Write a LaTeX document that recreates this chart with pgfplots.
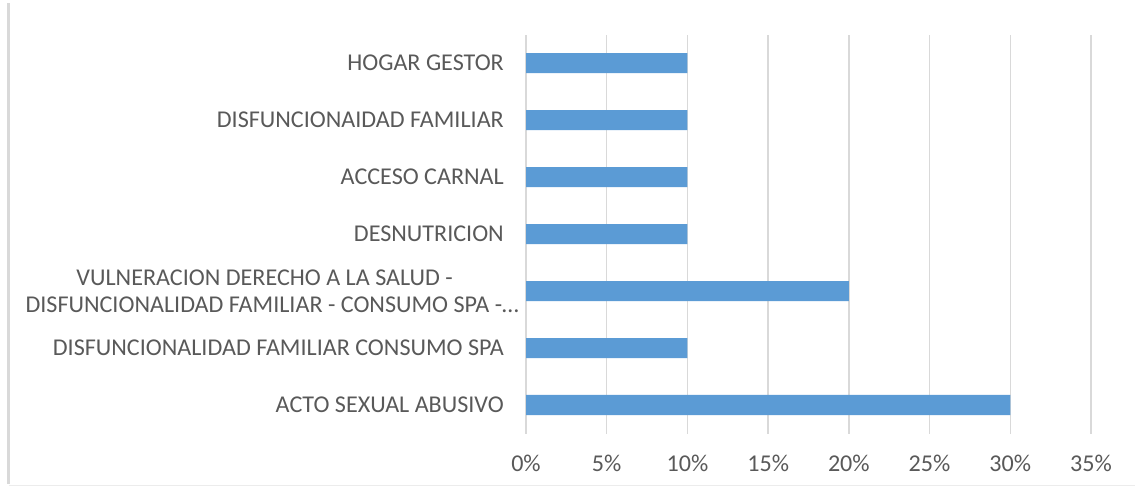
\documentclass[border=0pt]{standalone}
\usepackage{pgfplots}
\pgfplotsset{compat=1.18}
\usepackage{fontspec}
\setmainfont{Carlito}
\definecolor{barblue}{HTML}{5B9BD5}
\definecolor{txtgray}{HTML}{595959}
\definecolor{gridgray}{HTML}{D9D9D9}
\begin{document}
\begin{tikzpicture}
\path[use as bounding box] (0,0) rectangle (1135bp,487bp);
\draw[gridgray, line width=2.5bp] (8.5bp,3bp) -- (8.5bp,484bp);
\draw[gridgray!50, line width=1bp] (8.5bp,1.3bp) -- (1135bp,1.3bp);
\begin{axis}[
  at={(526bp,53.5bp)}, anchor=south west,
  width=565bp, height=399bp, scale only axis,
  xbar, bar width=20bp,
  xmin=0, xmax=35, ymin=-0.5, ymax=6.5,
  xtick={0,5,10,15,20,25,30,35},
  xticklabels={0\%,5\%,10\%,15\%,20\%,25\%,30\%,35\%},
  ytick={0,1,2,3,4,5,6},
  yticklabels={ACTO SEXUAL ABUSIVO,DISFUNCIONALIDAD FAMILIAR CONSUMO SPA,{VULNERACION DERECHO A LA SALUD -\\DISFUNCIONALIDAD FAMILIAR - CONSUMO SPA -\ldots\hspace*{-15bp}},DESNUTRICION,ACCESO CARNAL,DISFUNCIONAIDAD FAMILIAR,HOGAR GESTOR},
  major tick length=0pt,
  axis line style={draw=none},
  xmajorgrids, grid style={gridgray, line width=1.5bp},
  tick label style={font=\fontsize{24.2}{27.5}\selectfont, text=txtgray},
  yticklabel style={align=center, inner xsep=0pt, xshift=-22bp},
  xticklabel style={inner ysep=0pt, yshift=-21bp},
]
\addplot[fill=barblue, draw=none] coordinates {(30,0) (10,1) (20,2) (10,3) (10,4) (10,5) (10,6)};
\end{axis}
\end{tikzpicture}
\end{document}
